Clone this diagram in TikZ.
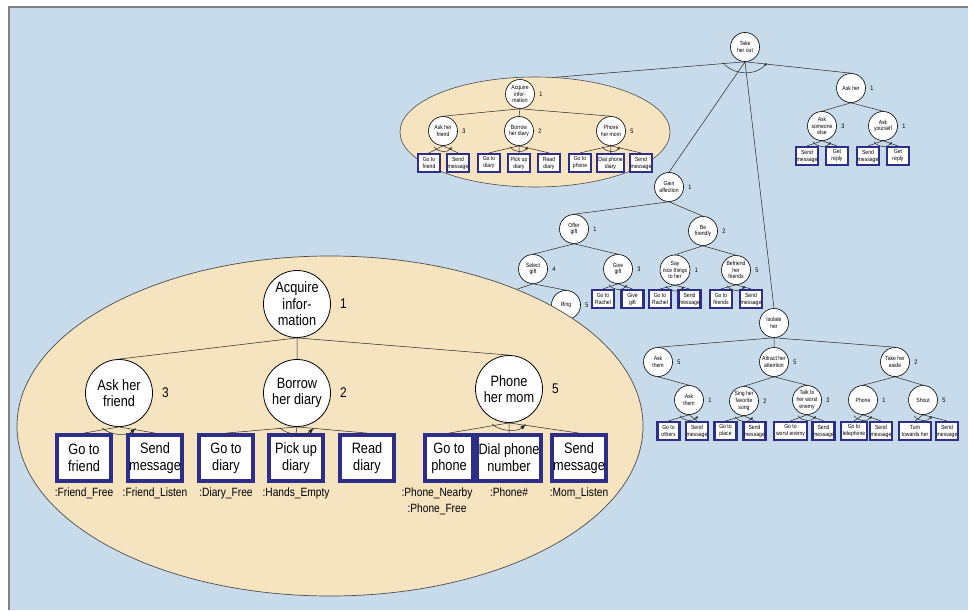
\documentclass[tikz,border=0pt]{standalone}
\usepackage{fontspec}
\setmainfont{Liberation Sans}[FakeStretch=0.85]
\usepackage{xcolor}
\usetikzlibrary{calc, positioning, arrows.meta, shapes.geometric}

\definecolor{paneblue}{RGB}{199,219,234}
\definecolor{zoomfill}{RGB}{246,227,192}
\definecolor{actblue}{RGB}{44,46,138}

\newcommand{\andarc}[4]{\draw[#4] ([shift={(-#2,1)}]#1.south) .. controls ([shift={(-#2/2,#3)}]#1.south) and ([shift={(#2/2,#3)}]#1.south) .. ([shift={(#2,1)}]#1.south);}

\tikzset{
  goal/.style={circle,draw,fill=white,line width=0.6pt,inner sep=0pt,align=center},
  sgoal/.style={goal,minimum size=29pt,font=\fontsize{6}{6.6}\selectfont},
  bgoal/.style={goal,minimum size=67pt,line width=0.8pt,font=\fontsize{15}{16.5}\selectfont},
  act/.style={draw=actblue,fill=white,inner sep=0pt,align=center},
  sact/.style={act,line width=2.1pt,minimum width=22pt,minimum height=18pt,font=\fontsize{6}{7}\selectfont},
  bact/.style={act,line width=3.8pt,minimum width=54pt,minimum height=46pt,font=\fontsize{15}{17}\selectfont},
  snum/.style={font=\fontsize{6.5}{7}\selectfont,xshift=1pt},
  bnum/.style={font=\fontsize{14}{16}\selectfont,inner sep=0pt,xshift=9pt},
  link/.style={draw=black!85,line width=0.5pt},
  sseq/.style={link,-{Latex[length=3pt,width=2.4pt]}},
  bseq/.style={link,-{Latex[length=6pt,width=4pt]}},
  cond/.style={font=\fontsize{12}{16}\selectfont,align=center,inner sep=0pt}
}

\begin{document}
\begin{tikzpicture}[x=1pt,y=-1pt]
\useasboundingbox (0,0) rectangle (968,610);
\fill[white] (0,0) rectangle (968,610);
\fill[paneblue] (9,7) rectangle (968,610);
\draw[gray,line width=1.2pt] (968,7) -- (9,7) -- (9,610);

\node[ellipse,draw=black!70,fill=zoomfill,line width=0.6pt,inner sep=0pt,minimum width=270pt,minimum height=110pt] (zoomA) at (535,132) {};

\node[sgoal] (takeout) at (745,47) {Take\\her out};
\node[sgoal,label={[snum]right:1}] (askher) at (851,88) {Ask her};
\node[sgoal,label={[snum]right:3}] (askelse) at (822,126) {Ask\\someone\\else};
\node[sgoal,label={[snum]right:1}] (askself) at (883,126) {Ask\\yourself};
\node[sact] (askelse1) at (807,156) {Send\\message};
\node[sact] (askelse2) at (837,156) {Get\\reply};
\node[sact] (askself1) at (868,156) {Send\\message};
\node[sact] (askself2) at (898,156) {Get\\reply};

\node[sgoal,label={[snum]right:1}] (acq) at (520,94) {Acquire\\infor-\\mation};
\node[sgoal,label={[snum]right:3}] (askfr) at (443,131) {Ask her\\friend};
\node[sgoal,label={[snum]right:2}] (borrow) at (519,131) {Borrow\\her diary};
\node[sgoal,label={[snum]right:5}] (phmom) at (611,131) {Phone\\her mom};
\node[sact] (askfr1) at (429,163) {Go to\\friend};
\node[sact] (askfr2) at (458,163) {Send\\message};
\node[sact] (borrow1) at (489,163) {Go to\\diary};
\node[sact] (borrow2) at (519,163) {Pick up\\diary};
\node[sact] (borrow3) at (549,163) {Read\\diary};
\node[sact] (phmom1) at (580,163) {Go to\\phone};
\node[sact,minimum width=27pt] (phmom2) at (610.5,163) {Dial phone\\diary};
\node[sact] (phmom3) at (641,163) {Send\\message};

\node[sgoal,label={[snum]right:1}] (gain) at (669,187) {Gain\\affection};
\node[sgoal,label={[snum]right:1}] (offer) at (574,229) {Offer\\gift};
\node[sgoal,label={[snum]right:2}] (friendly) at (703,231) {Be\\friendly};
\node[sgoal,label={[snum]right:4}] (select) at (533,269) {Select\\gift};
\node[sgoal,label={[snum]right:3}] (give) at (618,269) {Give\\gift};
\node[sgoal,label={[snum]right:1}] (nice) at (675,270) {Say\\nice things\\to her};
\node[sgoal,label={[snum]right:5}] (befriend) at (736,270) {Befriend\\her\\friends};
\node[sgoal,label={[snum]right:5}] (ring) at (566,305) {Ring};
\coordinate (hidden) at (470,305);
\node[sact] (give1) at (603,299) {Go to\\Rachel};
\node[sact] (give2) at (632.5,299) {Give\\gift};
\node[sact] (nice1) at (660,299) {Go to\\Rachel};
\node[sact] (nice2) at (689.5,299) {Send\\message};
\node[sact] (befriend1) at (721,299) {Go to\\friends};
\node[sact] (befriend2) at (751,299) {Send\\message};

\node[sgoal] (isolate) at (774,323) {Isolate\\her};
\node[sgoal,label={[snum]right:5}] (askthem) at (658,362) {Ask\\them};
\node[sgoal,label={[snum]right:5}] (attract) at (774,362) {Attract her\\attention};
\node[sgoal,label={[snum]right:2}] (aside) at (895,362) {Take her\\aside};
\node[sgoal,label={[snum]right:1}] (askthem2) at (689,400) {Ask\\them};
\node[sgoal,label={[snum]right:2}] (sing) at (744,401) {Sing her\\favorite\\song};
\node[sgoal,label={[snum]right:3}] (enemy) at (807,400) {Talk to\\her worst\\enemy};
\node[sgoal,label={[snum]right:1}] (phone) at (863,400) {Phone};
\node[sgoal,label={[snum]right:5}] (shout) at (923,400) {Shout};
\node[sact] (askthem21) at (668.5,431) {Go to\\others};
\node[sact] (askthem22) at (697,431) {Send\\message};
\node[sact] (sing1) at (725.5,431) {Go to\\place};
\node[sact] (sing2) at (754.5,431) {Send\\message};
\node[sact,minimum width=33pt] (enemy1) at (790.5,431) {Go to\\worst enemy};
\node[sact] (enemy2) at (823.5,431) {Send\\message};
\node[sact,minimum width=26pt] (phone1) at (854,431) {Go to\\telephone};
\node[sact] (phone2) at (881,431) {Send\\message};
\node[sact,minimum width=32pt] (shout1) at (915,431) {Turn\\towards her};
\node[sact] (shout2) at (947,431) {Send\\message};

\draw[link] (takeout.south) -- (zoomA.70) (takeout.south) -- (gain.north) (takeout.south) -- (isolate.north) (takeout.south) -- (askher.north);
\andarc{takeout}{22}{14}{sseq}
\draw[link] (askher.south) -- (askelse.north) (askher.south) -- (askself.north);
\draw[link] (askelse.south) -- (askelse1.north) (askelse.south) -- (askelse2.north);
\draw[link] (askself.south) -- (askself1.north) (askself.south) -- (askself2.north);
\andarc{askelse}{9}{7}{sseq}
\andarc{askself}{9}{7}{sseq}

\draw[link] (acq.south) -- (askfr.north) (acq.south) -- (borrow.north) (acq.south) -- (phmom.north);
\draw[link] (askfr.south) -- (askfr1.north) (askfr.south) -- (askfr2.north);
\draw[link] (borrow.south) -- (borrow1.north) (borrow.south) -- (borrow2.north) (borrow.south) -- (borrow3.north);
\draw[link] (phmom.south) -- (phmom1.north) (phmom.south) -- (phmom2.north) (phmom.south) -- (phmom3.north);
\andarc{askfr}{9}{7}{sseq}
\andarc{borrow}{9}{7}{sseq}
\andarc{phmom}{9}{7}{sseq}

\draw[link] (gain.south) -- (offer.north) (gain.south) -- (friendly.north);
\draw[link] (offer.south) -- (select.north) (offer.south) -- (give.north);
\draw[link] (friendly.south) -- (nice.north) (friendly.south) -- (befriend.north);
\draw[link] (select.south) -- (hidden) (select.south) -- (ring.north);
\draw[link] (give.south) -- (give1.north) (give.south) -- (give2.north);
\draw[link] (nice.south) -- (nice1.north) (nice.south) -- (nice2.north);
\draw[link] (befriend.south) -- (befriend1.north) (befriend.south) -- (befriend2.north);
\andarc{give}{9}{7}{sseq}
\andarc{nice}{9}{7}{sseq}
\andarc{befriend}{9}{7}{sseq}

\draw[link] (isolate.south) -- (askthem.north) (isolate.south) -- (attract.north) (isolate.south) -- (aside.north);
\draw[link] (askthem.south) -- (askthem2.north);
\draw[link] (attract.south) -- (sing.north) (attract.south) -- (enemy.north);
\draw[link] (aside.south) -- (phone.north) (aside.south) -- (shout.north);
\draw[link] (askthem2.south) -- (askthem21.north) (askthem2.south) -- (askthem22.north);
\draw[link] (sing.south) -- (sing1.north) (sing.south) -- (sing2.north);
\draw[link] (enemy.south) -- (enemy1.north) (enemy.south) -- (enemy2.north);
\draw[link] (phone.south) -- (phone1.north) (phone.south) -- (phone2.north);
\draw[link] (shout.south) -- (shout1.north) (shout.south) -- (shout2.north);
\andarc{askthem2}{9}{7}{sseq}
\andarc{sing}{9}{7}{sseq}
\andarc{enemy}{9}{7}{sseq}
\andarc{phone}{9}{7}{sseq}
\andarc{shout}{9}{7}{sseq}

\node[ellipse,draw=black!70,fill=zoomfill,line width=0.7pt,inner sep=0pt,minimum width=626pt,minimum height=340pt] (zoomB) at (330,426) {};

\node[bgoal,label={[bnum]right:1}] (bacq) at (297,304) {Acquire\\infor-\\mation};
\node[bgoal,label={[bnum]right:3}] (baskfr) at (119,393) {Ask her\\friend};
\node[bgoal,label={[bnum]right:2}] (bborrow) at (297,393) {Borrow\\her diary};
\node[bgoal,label={[bnum]right:5}] (bphmom) at (509,389) {Phone\\her mom};
\node[bact] (baskfr1) at (84,458) {Go to\\friend};
\node[bact] (baskfr2) at (155,458) {Send\\message};
\node[bact] (bborrow1) at (226,458) {Go to\\diary};
\node[bact] (bborrow2) at (296,458) {Pick up\\diary};
\node[bact] (bborrow3) at (367,458) {Read\\diary};
\node[bact,minimum width=48pt] (bphmom1) at (449,458) {Go to\\phone};
\node[bact,minimum width=64pt] (bphmom2) at (509,458) {Dial phone\\number};
\node[bact] (bphmom3) at (579,458) {Send\\message};

\node[cond,below=5pt of baskfr1] (friendfree) {:Friend\_Free};
\node[cond,below=5pt of baskfr2] (friendlisten) {:Friend\_Listen};
\node[cond,below=5pt of bborrow1] (diaryfree) {:Diary\_Free};
\node[cond,below=5pt of bborrow2] (handsempty) {:Hands\_Empty};
\node[cond,below=5pt of bphmom1,xshift=-12pt] (phonenear) {:Phone\_Nearby\\:Phone\_Free};
\node[cond,below=5pt of bphmom2] (phonenum) {:Phone\#};
\node[cond,below=5pt of bphmom3] (momlisten) {:Mom\_Listen};

\draw[link] (bacq.south) -- (baskfr.north) (bacq.south) -- (bborrow.north) (bacq.south) -- (bphmom.north);
\draw[link] (baskfr.south) -- (baskfr1.north) (baskfr.south) -- (baskfr2.north);
\draw[link] (bborrow.south) -- (bborrow1.north) (bborrow.south) -- (bborrow2.north) (bborrow.south) -- (bborrow3.north);
\draw[link] (bphmom.south) -- (bphmom1.north) (bphmom.south) -- (bphmom2.north) (bphmom.south) -- (bphmom3.north);
\andarc{baskfr}{17}{9}{bseq}
\andarc{bborrow}{17}{9}{bseq}
\andarc{bphmom}{17}{9}{bseq}
\end{tikzpicture}
\end{document}
